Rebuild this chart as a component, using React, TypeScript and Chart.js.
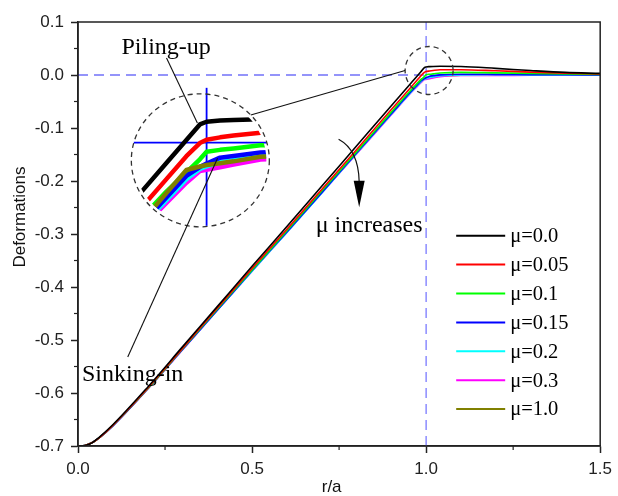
import { useEffect, useRef } from 'react';
import { Chart, registerables } from 'chart.js';
Chart.register(...registerables);

// ---------------- data ----------------
const R = [0, 0.02, 0.04, 0.06, 0.1, 0.2, 0.3, 0.4, 0.5, 0.6, 0.7, 0.8, 0.9, 0.95, 0.97, 0.985, 0.995, 1.0, 1.01, 1.02, 1.04, 1.1, 1.2, 1.3, 1.4, 1.5];

const MU_LABELS = ['μ=0.0', 'μ=0.05', 'μ=0.1', 'μ=0.15', 'μ=0.2', 'μ=0.3', 'μ=1.0'];
const MU_COLORS = ['#000000', '#ff0000', '#00ff00', '#0000ff', '#00ffff', '#ff00ff', '#808000'];

const Y_MU_000 = [-0.700, -0.699, -0.694, -0.684, -0.660, -0.589, -0.513, -0.437, -0.361, -0.286, -0.210, -0.134, -0.058, -0.0202, -0.0050, 0.0063, 0.0139, 0.0152, 0.0158, 0.0161, 0.0164, 0.0160, 0.0125, 0.0085, 0.0050, 0.0030];
const Y_MU_005 = [-0.700, -0.699, -0.694, -0.685, -0.661, -0.591, -0.516, -0.440, -0.365, -0.291, -0.216, -0.141, -0.065, -0.028, -0.0129, -0.0016, 0.0048, 0.0064, 0.0076, 0.0085, 0.0098, 0.0100, 0.0080, 0.0055, 0.0035, 0.0020];
const Y_MU_010 = [-0.700, -0.699, -0.694, -0.685, -0.661, -0.592, -0.517, -0.442, -0.368, -0.294, -0.219, -0.145, -0.070, -0.033, -0.0190, -0.0095, -0.0031, 0.0006, 0.0015, 0.0022, 0.0037, 0.0050, 0.0040, 0.0030, 0.0020, 0.0010];
const Y_MU_015 = [-0.700, -0.699, -0.694, -0.685, -0.662, -0.592, -0.518, -0.444, -0.369, -0.296, -0.222, -0.147, -0.073, -0.036, -0.0218, -0.0112, -0.0069, -0.0052, -0.0023, -0.0015, 0.0002, 0.0015, 0.0012, 0.0008, 0.0004, 0.0002];
const Y_MU_020 = [-0.700, -0.699, -0.694, -0.685, -0.662, -0.592, -0.518, -0.444, -0.370, -0.297, -0.223, -0.148, -0.074, -0.037, -0.0232, -0.0128, -0.0078, -0.0066, -0.0045, -0.0035, -0.0015, 0.0002, 0.0004, 0.0003, 0.0002, 0.0000];
const Y_MU_030 = [-0.700, -0.699, -0.694, -0.685, -0.662, -0.593, -0.519, -0.444, -0.370, -0.297, -0.223, -0.149, -0.075, -0.038, -0.0245, -0.0145, -0.0088, -0.0082, -0.0070, -0.0057, -0.0032, -0.0010, -0.0008, -0.0006, -0.0005, -0.0005];
const Y_MU_100 = [-0.700, -0.699, -0.694, -0.685, -0.662, -0.592, -0.518, -0.443, -0.369, -0.295, -0.221, -0.147, -0.072, -0.035, -0.0197, -0.0083, -0.0066, -0.0059, -0.0050, -0.0041, -0.0019, -0.0005, 0.0000, 0.0000, 0.0000, 0.0000];

const SERIES = [Y_MU_000, Y_MU_005, Y_MU_010, Y_MU_015, Y_MU_020, Y_MU_030, Y_MU_100];

const X_MIN = 0, X_MAX = 1.5, X_STEP = 0.5;
const Y_MIN = -0.7, Y_MAX = 0.1, Y_STEP = 0.1;
const X_MINOR = [0.25, 0.75, 1.25];
const Y_MINOR = [0.05, -0.05, -0.15, -0.25, -0.35, -0.45, -0.55, -0.65];
const REF_X = 1.0;   // vertical dashed reference line r/a = 1
const REF_Y = 0.0;   // horizontal dashed reference line

// inset (magnified view) : data anchors
const INSET_FOCUS = [1.0, 0.005];       // data point magnified
const INSET_CROSS = [0.3694, -0.1277];  // where focus is drawn
const INSET_CENTER = [0.3514, -0.161];  // centre of dashed circle
const INSET_MAG = 3.87;
const SMALL_CIRCLE = [1.0086, 0.0085];
const INSET_DRAW_ORDER = [0, 1, 2, 5, 4, 3, 6];

// annotation anchors in data units
const PILING_TEXT = [0.1249, 0.0396];
const PILING_LINE = [[0.2543, 0.0321], [0.3429, -0.0906]];
const SINKING_TEXT = [0.0114, -0.5774];
const SINKING_LINE = [[0.1429, -0.532], [0.4009, -0.1572]];
const MU_TEXT = [0.6829, -0.2962];
const ARROW = [[0.7486, -0.1213], [0.8057, -0.1415], [0.8077, -0.2013]];
const ARROW_TIP_Y = -0.2496;

const SERIF = "'Liberation Serif', 'Times New Roman', serif";
const SANS = "'Liberation Sans', Arial, sans-serif";

const overlayPlugin = {
  id: 'overlay',
  afterDatasetsDraw(chart: any) {
    const { ctx, chartArea: a } = chart;
    const xs = chart.scales.x, ys = chart.scales.y;
    const px = (v: number) => xs.getPixelForValue(v);
    const py = (v: number) => ys.getPixelForValue(v);
    const seg = (x1: number, y1: number, x2: number, y2: number) => {
      ctx.beginPath(); ctx.moveTo(x1, y1); ctx.lineTo(x2, y2); ctx.stroke();
    };
    ctx.save();
    // frame
    ctx.strokeStyle = '#222';
    ctx.lineWidth = 1.5;
    ctx.setLineDash([]);
    ctx.strokeRect(a.left, a.top, a.right - a.left, a.bottom - a.top);
    // minor ticks
    ctx.lineWidth = 1.2;
    X_MINOR.forEach(v => seg(px(v), a.bottom, px(v), a.bottom + 4));
    Y_MINOR.forEach(v => seg(a.left - 4, py(v), a.left, py(v)));

    // axis titles
    ctx.fillStyle = '#111';
    ctx.font = `17px ${SANS}`;
    ctx.textAlign = 'center';
    ctx.textBaseline = 'alphabetic';
    ctx.fillText('r/a', px(0.7286), a.bottom + 46);
    ctx.save();
    ctx.translate(a.left - 53, py(-0.268));
    ctx.rotate(-Math.PI / 2);
    ctx.fillText('Deformations', 0, 0);
    ctx.restore();

    // ---- inset ----
    const cx = px(INSET_CENTER[0]), cy = py(INSET_CENTER[1]);
    const rx = 69, ry = 66.5;
    const crossX = px(INSET_CROSS[0]), crossY = py(INSET_CROSS[1]);
    const fX = px(INSET_FOCUS[0]), fY = py(INSET_FOCUS[1]);
    const map = (r: number, y: number) => [crossX + (px(r) - fX) * INSET_MAG, crossY + (py(y) - fY) * INSET_MAG];
    // crosshair (magnified reference lines)
    ctx.strokeStyle = '#0000ff';
    ctx.lineWidth = 1.8;
    const dy = (crossY - cy) / ry;
    const hw = rx * Math.sqrt(Math.max(0, 1 - dy * dy));
    seg(cx - hw, crossY, cx + hw, crossY);
    seg(crossX, cy - ry - 6, crossX, cy + ry - 1);
    // magnified curves
    ctx.save();
    ctx.beginPath();
    ctx.ellipse(cx, cy, rx - 3, ry - 3, 0, 0, Math.PI * 2);
    ctx.clip();
    ctx.lineWidth = 4.5;
    ctx.lineJoin = 'round';
    ctx.lineCap = 'butt';
    INSET_DRAW_ORDER.forEach(si => {
      const ys_ = SERIES[si];
      ctx.strokeStyle = MU_COLORS[si];
      ctx.beginPath();
      let started = false;
      R.forEach((r, i) => {
        if (r < 0.9 || r > 1.1) return;
        const [x, y] = map(r, ys_[i]);
        if (!started) { ctx.moveTo(x, y); started = true; } else ctx.lineTo(x, y);
      });
      ctx.stroke();
    });
    ctx.restore();
    // dashed circles
    ctx.strokeStyle = '#333';
    ctx.lineWidth = 1.3;
    ctx.setLineDash([5, 4]);
    ctx.beginPath();
    ctx.ellipse(cx, cy, rx, ry, 0, 0, Math.PI * 2);
    ctx.stroke();
    const sx = px(SMALL_CIRCLE[0]), sy = py(SMALL_CIRCLE[1]);
    ctx.beginPath();
    ctx.arc(sx, sy, 24, 0, Math.PI * 2);
    ctx.stroke();
    ctx.setLineDash([]);
    // connector
    ctx.strokeStyle = '#111';
    ctx.lineWidth = 1.1;
    const ang = -43 * Math.PI / 180;
    seg(cx + rx * Math.cos(ang), cy + ry * Math.sin(ang), sx - 24, sy);

    // annotations
    seg(px(PILING_LINE[0][0]), py(PILING_LINE[0][1]), px(PILING_LINE[1][0]), py(PILING_LINE[1][1]));
    seg(px(SINKING_LINE[0][0]), py(SINKING_LINE[0][1]), px(SINKING_LINE[1][0]), py(SINKING_LINE[1][1]));
    ctx.fillStyle = '#000';
    ctx.font = `24px ${SERIF}`;
    ctx.textAlign = 'left';
    ctx.textBaseline = 'alphabetic';
    ctx.fillText('Piling-up', px(PILING_TEXT[0]), py(PILING_TEXT[1]));
    ctx.fillText('Sinking-in', px(SINKING_TEXT[0]), py(SINKING_TEXT[1]));
    ctx.fillText('μ increases', px(MU_TEXT[0]), py(MU_TEXT[1]));
    // curved arrow
    ctx.lineWidth = 1.2;
    ctx.beginPath();
    ctx.moveTo(px(ARROW[0][0]), py(ARROW[0][1]));
    ctx.quadraticCurveTo(px(ARROW[1][0]), py(ARROW[1][1]), px(ARROW[2][0]), py(ARROW[2][1]));
    ctx.stroke();
    const ax = px(ARROW[2][0]), ay = py(ARROW[2][1]);
    ctx.beginPath();
    ctx.moveTo(ax - 5.5, ay - 1);
    ctx.lineTo(ax + 5.5, ay - 1);
    ctx.lineTo(ax, py(ARROW_TIP_Y));
    ctx.closePath();
    ctx.fill();

    // legend
    ctx.font = `20.5px ${SERIF}`;
    ctx.textBaseline = 'middle';
    const lx0 = a.right - 144, lx1 = a.right - 95, tx = a.right - 90;
    MU_LABELS.forEach((lab, i) => {
      const y = a.top + 213.7 + i * 28.9;
      ctx.strokeStyle = MU_COLORS[i];
      ctx.lineWidth = 2;
      seg(lx0, y, lx1, y);
      ctx.fillStyle = '#000';
      ctx.fillText(lab, tx, y + 1);
    });
    ctx.restore();
  },
};

export default function App() {
  const ref = useRef<HTMLCanvasElement>(null);
  useEffect(() => {
    document.body.style.margin = '0';
    const datasets: any[] = SERIES.map((s, i) => ({
      label: MU_LABELS[i],
      data: R.map((r, j) => ({ x: r, y: s[j] })),
      borderColor: MU_COLORS[i],
      borderWidth: 1.6,
      pointRadius: 0,
      cubicInterpolationMode: 'monotone',
      fill: false,
    }));
    datasets.push({
      label: 'refY',
      data: [{ x: X_MIN, y: REF_Y }, { x: X_MAX, y: REF_Y }],
      borderColor: '#2a2af5',
      borderWidth: 1.2,
      borderDash: [10, 6],
      pointRadius: 0,
    });
    datasets.push({
      label: 'refX',
      data: [{ x: REF_X, y: Y_MIN }, { x: REF_X, y: Y_MAX }],
      borderColor: '#7a7aff',
      borderWidth: 1.3,
      borderDash: [10, 6],
      pointRadius: 0,
    });
    const chart = new Chart(ref.current!, {
      type: 'line',
      data: { datasets },
      options: {
        animation: false,
        responsive: false,
        layout: { padding: { top: 22, right: 15, left: 0, bottom: 0 } },
        plugins: { legend: { display: false }, tooltip: { enabled: false } },
        scales: {
          x: {
            type: 'linear',
            min: X_MIN,
            max: X_MAX,
            afterFit: (s: any) => { s.height = 50; },
            ticks: {
              stepSize: X_STEP,
              maxRotation: 0,
              autoSkip: false,
              padding: 6,
              color: '#222',
              font: { family: SANS, size: 17 },
              callback: (v: any) => Number(v).toFixed(1),
            },
            grid: { drawOnChartArea: false, drawTicks: true, tickLength: 7, tickColor: '#222', tickWidth: 1.5 },
            border: { display: true, color: '#222', width: 1.5 },
          },
          y: {
            type: 'linear',
            min: Y_MIN,
            max: Y_MAX,
            afterFit: (s: any) => { s.width = 78; },
            ticks: {
              stepSize: Y_STEP,
              padding: 7,
              color: '#222',
              font: { family: SANS, size: 17 },
              callback: (v: any) => Number(v).toFixed(1),
            },
            grid: { drawOnChartArea: false, drawTicks: true, tickLength: 7, tickColor: '#222', tickWidth: 1.5 },
            border: { display: true, color: '#222', width: 1.5 },
          },
        },
      },
      plugins: [overlayPlugin],
    } as any);
    return () => chart.destroy();
  }, []);
  return (
    <div style={{ width: 618, height: 496 }}>
      <canvas ref={ref} width={618} height={496} style={{ display: 'block' }} />
    </div>
  );
}
